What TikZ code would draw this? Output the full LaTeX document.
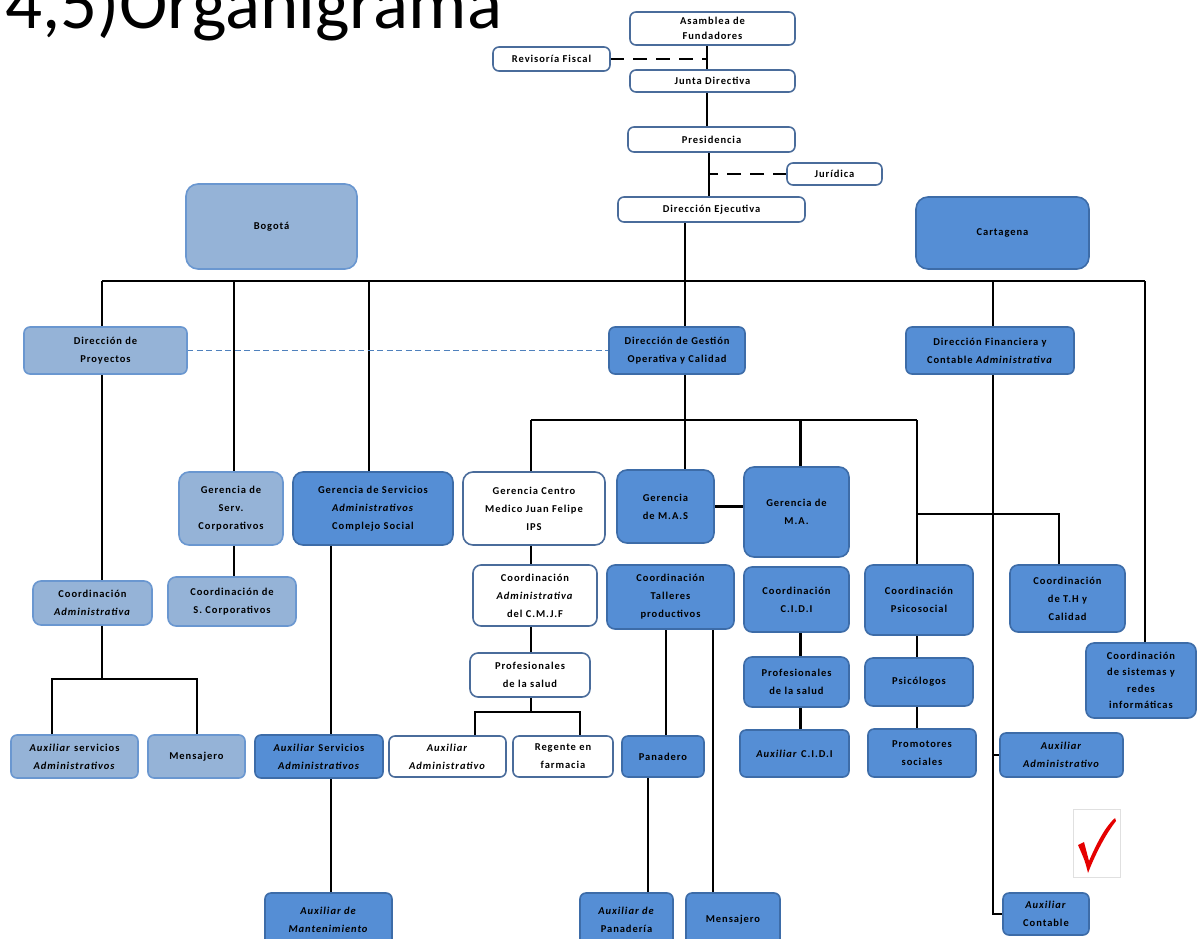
\documentclass[tikz,border=0pt]{standalone}
\usepackage{fontspec}
\setmainfont{Carlito}
\newfontfamily\bxfont[LetterSpace=9]{Carlito}
\usetikzlibrary{backgrounds}
\definecolor{lbfill}{HTML}{95B3D7}
\definecolor{lbdraw}{HTML}{6A97D0}
\definecolor{mbfill}{HTML}{558ED5}
\definecolor{mbdraw}{HTML}{3D6CA8}
\definecolor{wbdraw}{HTML}{4A6C9B}
\definecolor{dashblue}{HTML}{4F81BD}
\newcommand\bx[7]{\node[#1, minimum width={(#5-#3)*1pt}, minimum height={(#6-#4)*1pt}] (#2) at ({(#3+#5)/2},{(#4+#6)/2}) {#7};}
\begin{document}
\begin{tikzpicture}[x=1pt,y=-1pt,
  box/.style={rounded corners=6pt, line width=1.6pt, inner sep=0pt, outer sep=0pt, align=center,
    font=\bxfont\bfseries\fontsize{10.5}{18}\selectfont},
  lbox/.style={box, fill=lbfill, draw=lbdraw},
  mbox/.style={box, fill=mbfill, draw=mbdraw},
  wbox/.style={box, fill=white, draw=wbdraw},
  conn/.style={line width=2.1pt, black},
  dconn/.style={line width=2.4pt, black, dash pattern=on 14pt off 9pt},
  bconn/.style={line width=1.8pt, dashblue, dash pattern=on 6pt off 3.5pt}]
\clip (0,0) rectangle (1197,938);

\node[anchor=base west, inner sep=0pt, font=\fontsize{73}{73}\selectfont] (title) at (5,28) {4,5)Organigrama};

% top chain
\bx{wbox}{asam}{630}{12}{795}{45}{Asamblea de\\[-3pt]Fundadores}
\bx{wbox}{rev}{493}{47}{610}{71}{Revisoría Fiscal}
\bx{wbox}{junta}{630}{70}{795}{92}{Junta Directiva}
\bx{wbox}{pres}{628}{127}{795}{152}{Presidencia}
\bx{wbox}{jur}{787}{163}{882}{185}{Jurídica}
\bx{wbox}{dirEj}{618}{197}{805}{222}{Dirección Ejecutiva}
\bx{lbox,rounded corners=12pt}{bog}{186}{184}{357}{269}{Bogotá}
\bx{mbox,rounded corners=12pt}{cart}{916}{197}{1089}{269}{Cartagena}

% directions
\bx{lbox}{dproy}{24}{327}{187}{374}{Dirección de\\Proyectos}
\bx{mbox}{dges}{609}{327}{745}{374}{Dirección de Gestión\\Operativa y Calidad}
\bx{mbox}{dfin}{906}{327}{1074}{374}{Dirección Financiera y\\Contable \textit{Administrativa}}

% gerencias
\bx{lbox,rounded corners=10pt}{gserv}{179}{472}{283}{545}{Gerencia de\\Serv.\\Corporativos}
\bx{mbox,rounded corners=10pt}{gadm}{293}{472}{453}{545}{Gerencia de Servicios\\\textit{Administrativos}\\Complejo Social}
\bx{wbox,rounded corners=10pt}{gcm}{463}{472}{605}{545}{Gerencia Centro\\Medico Juan Felipe\\IPS}
\bx{mbox,rounded corners=10pt}{gmas}{617}{470}{714}{543}{Gerencia\\de M.A.S}
\bx{mbox,rounded corners=10pt}{gma}{744}{467}{849}{557}{Gerencia de\\M.A.}

% coordinaciones
\bx{lbox,rounded corners=8pt}{cadm}{33}{581}{152}{625}{Coordinación\\\textit{Administrativa}}
\bx{lbox,rounded corners=8pt}{cserv}{168}{577}{296}{626}{Coordinación de\\S. Corporativos}
\bx{wbox,rounded corners=8pt}{ccm}{473}{565}{597}{626}{Coordinación\\\textit{Administrativa}\\del C.M.J.F}
\bx{mbox,rounded corners=8pt}{ctal}{607}{565}{734}{629}{Coordinación\\Talleres\\productivos}
\bx{mbox,rounded corners=8pt}{ccidi}{744}{567}{849}{632}{Coordinación\\C.I.D.I}
\bx{mbox,rounded corners=8pt}{cpsi}{865}{565}{973}{635}{Coordinación\\Psicosocial}
\bx{mbox,rounded corners=8pt}{cth}{1010}{565}{1125}{632}{Coordinación\\de T.H y\\Calidad}
\bx{mbox,rounded corners=8pt,font=\bxfont\bfseries\fontsize{10.5}{16.5}\selectfont}{csis}{1086}{643}{1196}{718}{Coordinación\\de sistemas y\\redes\\informáticas}
\bx{wbox,rounded corners=8pt}{prof1}{470}{653}{590}{697}{Profesionales\\de la salud}
\bx{mbox,rounded corners=8pt}{prof2}{744}{657}{849}{707}{Profesionales\\de la salud}
\bx{mbox,rounded corners=8pt}{psi}{865}{658}{973}{706}{Psicólogos}

% row 5
\bx{lbox}{auxsa}{11}{735}{138}{778}{\textit{Auxiliar} servicios\\\textit{Administrativos}}
\bx{lbox}{mens1}{148}{735}{245}{778}{Mensajero}
\bx{mbox}{auxsa2}{255}{735}{383}{778}{\textit{Auxiliar} Servicios\\\textit{Administrativos}}
\bx{wbox}{auxad1}{389}{736}{506}{777}{\textit{Auxiliar}\\\textit{Administrativo}}
\bx{wbox}{reg}{513}{736}{613}{777}{Regente en\\farmacia}
\bx{mbox}{pan}{622}{736}{704}{777}{Panadero}
\bx{mbox}{auxcidi}{740}{730}{849}{777}{\textit{Auxiliar} C.I.D.I}
\bx{mbox}{prom}{868}{729}{976}{777}{Promotores\\sociales}
\bx{mbox}{auxad2}{1000}{733}{1123}{777}{\textit{Auxiliar}\\\textit{Administrativo}}

% bottom
\bx{mbox}{auxman}{265}{893}{392}{946}{\textit{Auxiliar de}\\\textit{Mantenimiento}}
\bx{mbox}{auxpan}{580}{893}{673}{946}{\textit{Auxiliar de}\\Panadería}
\bx{mbox}{mens2}{686}{893}{780}{946}{Mensajero}
\bx{mbox}{auxcont}{1003}{893}{1089}{935}{\textit{Auxiliar}\\Contable}

% check mark
\node[draw=black!12, line width=0.6pt, minimum width=47pt, minimum height=68pt, inner sep=0pt] (chk) at (1097,843) {};
\fill[red!90!black] ([shift={(-19,2)}]chk.center) -- ([shift={(-13,-1)}]chk.center)
  .. controls ([shift={(-10,8)}]chk.center) .. ([shift={(-8,18)}]chk.center)
  .. controls ([shift={(2,-5)}]chk.center) and ([shift={(10,-18)}]chk.center) .. ([shift={(18,-25)}]chk.center)
  -- ([shift={(19,-22)}]chk.center)
  .. controls ([shift={(8,-8)}]chk.center) and ([shift={(-2,12)}]chk.center) .. ([shift={(-9,30)}]chk.center)
  .. controls ([shift={(-12,18)}]chk.center) .. cycle;

\begin{pgfonlayer}{background}
  \fill[white] (0,0) rectangle (1197,938);
  % top chain
  \coordinate (v1) at (707,0);
  \coordinate (v2) at (709,0);
  \draw[conn] (asam.south -| v1) -- (junta.north -| v1);
  \draw[dconn] (rev.east) -- (rev.east -| v1);
  \draw[conn] (junta.south -| v1) -- (pres.north -| v1);
  \draw[conn] (pres.south -| v2) -- (dirEj.north -| v2);
  \draw[dconn] (jur.west) -- (jur.west -| v2);
  % main bus
  \coordinate (bL) at (102,281);
  \coordinate (bR) at (1145,281);
  \coordinate (ej) at (685,0);
  \draw[conn] (bL) -- (bR);
  \draw[conn] (dirEj.south -| ej) -- (dges.north -| ej);
  \draw[conn] (bL) -- (bL |- cadm.north);
  \draw[conn] ([xshift=3]gserv.north |- bL) -- ([xshift=3]gserv.north);
  \draw[conn] ([xshift=-4]gadm.north |- bL) -- ([xshift=-4]gadm.north);
  \draw[conn] ([xshift=3]dfin.north |- bL) -- ([xshift=3]dfin.north);
  \draw[conn] (bR) -- (bR |- csis.north);
  \draw[bconn] (dproy.east) -- (dges.west);
  % gestion bus
  \coordinate (hub) at (685,420);
  \coordinate (b2L) at (531,420);
  \coordinate (b2R) at (917,420);
  \draw[conn] (b2L) -- (b2R);
  \draw[conn] (dges.south -| hub) -- (hub);
  \draw[conn] (b2L) -- (b2L |- gcm.north);
  \draw[conn] (hub) -- (hub |- gmas.north);
  \draw[conn] ([xshift=4]gma.north |- hub) -- ([xshift=4]gma.north);
  \draw[conn] (b2R) -- (b2R |- cpsi.north);
  \coordinate (b3) at (917,514);
  \coordinate (b3R) at (1059,514);
  \draw[conn] (b3) -- (b3R) -- (b3R |- cth.north);
  \draw[conn] (gmas.east) -- (gmas.east -| gma.west);
  % gerencia children
  \draw[conn] ([xshift=3]gserv.south) -- ([xshift=3]gserv.south |- cserv.north);
  \coordinate (ga) at (331,545);
  \draw[conn] (ga) -- (ga |- auxman.north);
  \draw[conn] (b2L |- gcm.south) -- (b2L |- ccm.north);
  \draw[conn] (b2L |- ccm.south) -- (b2L |- prof1.north);
  \coordinate (pL) at (475,712);
  \coordinate (pR) at (580,712);
  \draw[conn] (b2L |- prof1.south) -- (b2L |- pL);
  \draw[conn] (pL |- auxad1.north) -- (pL) -- (pR) -- (pR |- reg.north);
  % left coordination children
  \coordinate (cL) at (52,679);
  \coordinate (cR) at (197,679);
  \draw[conn] (bL |- cadm.south) -- (bL |- cL);
  \draw[conn] (cL |- auxsa.north) -- (cL) -- (cR) -- (cR |- mens1.north);
  % talleres
  \coordinate (t1) at (666,629);
  \coordinate (t2) at (713,629);
  \draw[conn] (t1) -- (t1 |- pan.north);
  \draw[conn] (t2) -- (t2 |- mens2.north);
  \draw[conn] ([xshift=-15]pan.south) -- ([xshift=-15]pan.south |- auxpan.north);
  % CIDI & psicosocial
  \draw[conn] ([xshift=4]ccidi.south) -- ([xshift=4]ccidi.south |- prof2.north);
  \draw[conn] ([xshift=4]prof2.south) -- ([xshift=4]prof2.south |- auxcidi.north);
  \draw[conn] (b2R |- cpsi.south) -- (b2R |- psi.north);
  \draw[conn] (b2R |- psi.south) -- (b2R |- prom.north);
  % financiera
  \coordinate (fin) at (993,374);
  \draw[conn] (fin) -- (fin |- auxcont.west) -- (auxcont.west);
  \draw[conn] (fin |- auxad2.west) -- (auxad2.west);
\end{pgfonlayer}
\end{tikzpicture}
\end{document}
